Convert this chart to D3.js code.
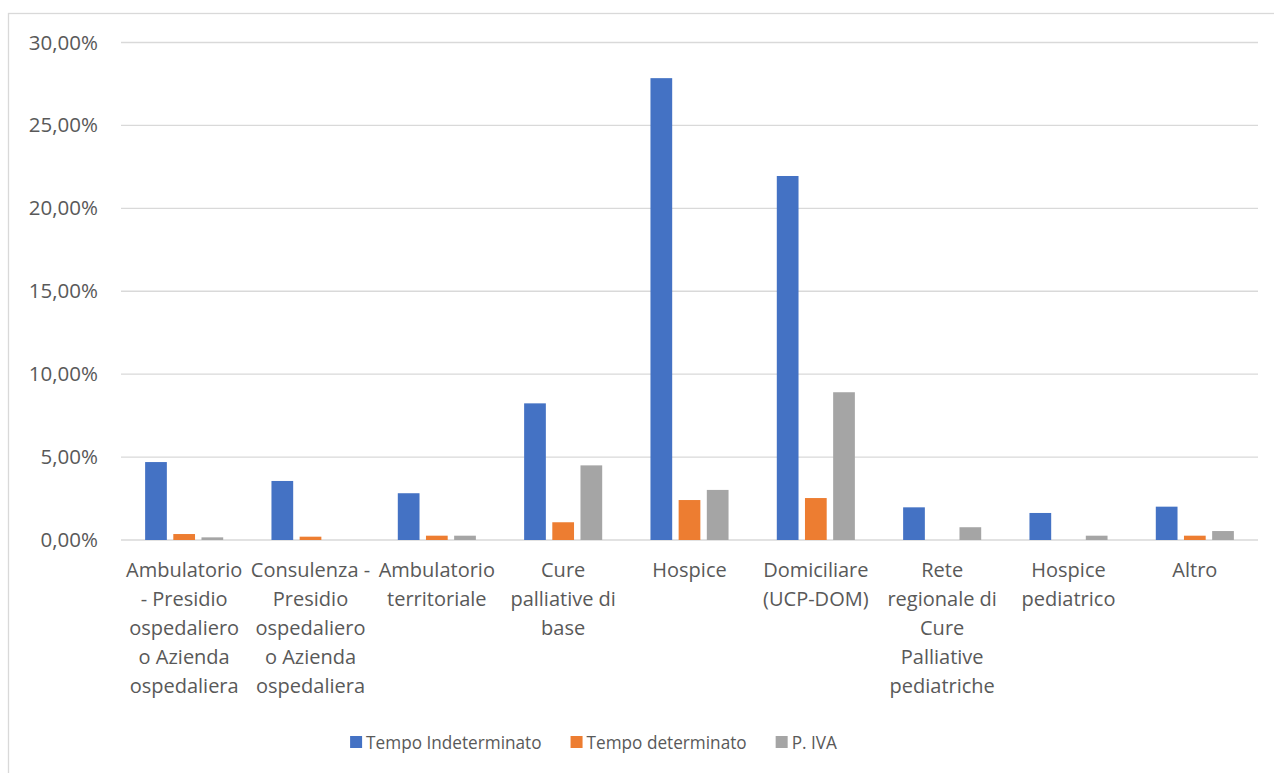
<!DOCTYPE html>
<html>
<head>
<meta charset="utf-8">
<script src="https://cdn.jsdelivr.net/npm/d3@7"></script>
<style>
  html, body { margin: 0; padding: 0; background: #ffffff; }
  svg { display: block; font-family: "Open Sans", "Noto Sans", sans-serif; }
</style>
</head>
<body>
<svg id="chart" width="1274" height="773"></svg>
<script>
// Categories (setting of care) and percentage of staff by contract type
const categories = [
  "Ambulatorio - Presidio ospedaliero o Azienda ospedaliera",
  "Consulenza - Presidio ospedaliero o Azienda ospedaliera",
  "Ambulatorio territoriale",
  "Cure palliative di base",
  "Hospice",
  "Domiciliare (UCP-DOM)",
  "Rete regionale di Cure Palliative pediatriche",
  "Hospice pediatrico",
  "Altro"
];
const seriesNames = ["Tempo Indeterminato", "Tempo determinato", "P. IVA"];
const tempoIndeterminato = [4.70, 3.56, 2.82, 8.24, 27.85, 21.95, 1.97, 1.63, 2.01];
const tempoDeterminato   = [0.36, 0.20, 0.26, 1.07, 2.41, 2.53, 0.00, 0.00, 0.26];
const partitaIva         = [0.16, 0.00, 0.26, 4.50, 3.02, 8.91, 0.77, 0.26, 0.54];
const yTicks = [0, 5, 10, 15, 20, 25, 30];
const seriesColors = ["#4472C4", "#ED7D31", "#A5A5A5"];

const seriesValues = [tempoIndeterminato, tempoDeterminato, partitaIva];
const rows = categories.map((c, i) => ({
  category: c,
  values: seriesNames.map((s, k) => ({ series: s, value: seriesValues[k][i] }))
}));

const svg = d3.select("#chart");
const textColor = "#595959";
const gridColor = "#D9D9D9";

// Chart-area frame
svg.append("rect")
  .attr("x", 8.5).attr("y", 13.5)
  .attr("width", 1300).attr("height", 800)
  .attr("fill", "#ffffff")
  .attr("stroke", gridColor).attr("stroke-width", 1.3);

const plot = { left: 121, right: 1258, top: 42.5, bottom: 540 };

const x = d3.scaleBand()
  .domain(categories)
  .range([plot.left, plot.right])
  .paddingInner(0.382)
  .paddingOuter(0.191);

const xs = d3.scaleBand()
  .domain(seriesNames)
  .range([0, x.bandwidth()])
  .paddingInner(0.229);

const y = d3.scaleLinear()
  .domain([0, 30])
  .range([plot.bottom, plot.top]);

const color = d3.scaleOrdinal().domain(seriesNames).range(seriesColors);

// Gridlines
svg.append("g")
  .selectAll("line")
  .data(yTicks)
  .join("line")
  .attr("x1", plot.left).attr("x2", plot.right)
  .attr("y1", d => y(d)).attr("y2", d => y(d))
  .attr("stroke", gridColor)
  .attr("stroke-width", 1.3);

// Y axis labels in Italian number format
const itLocale = d3.formatLocale({ decimal: ",", thousands: ".", grouping: [3], currency: ["", " €"] });
const pct = itLocale.format(".2%");
const yAxis = svg.append("g")
  .attr("transform", `translate(${plot.left},0)`)
  .call(d3.axisLeft(y).tickValues(yTicks).tickSize(0).tickPadding(23).tickFormat(d => pct(d / 100)));
yAxis.select(".domain").remove();
yAxis.selectAll("text")
  .attr("fill", textColor)
  .style("font-size", "20.5px")
  .style("font-family", "'Open Sans', sans-serif");

// Bars
const groups = svg.append("g")
  .selectAll("g")
  .data(rows)
  .join("g")
  .attr("transform", d => `translate(${x(d.category)},0)`);

groups.selectAll("rect")
  .data(d => d.values)
  .join("rect")
  .attr("x", d => xs(d.series))
  .attr("width", xs.bandwidth())
  .attr("y", d => y(d.value))
  .attr("height", d => y(0) - y(d.value))
  .attr("fill", d => color(d.series));

// Category labels, word-wrapped to the category width
const labelSize = 20;
const lineStep = 29;
const maxLabelWidth = 125;
const xLabels = svg.append("g")
  .selectAll("text")
  .data(categories)
  .join("text")
  .attr("x", d => x(d) + x.bandwidth() / 2)
  .attr("y", 577)
  .attr("text-anchor", "middle")
  .attr("fill", textColor)
  .style("font-size", labelSize + "px");

xLabels.each(function (d) {
  const text = d3.select(this);
  const cx = +text.attr("x");
  const words = d.split(/\s+/);
  let lineIdx = 0;
  let line = [];
  let tspan = text.append("tspan").attr("x", cx).attr("y", 577);
  words.forEach(w => {
    line.push(w);
    tspan.text(line.join(" "));
    if (tspan.node().getComputedTextLength() > maxLabelWidth && line.length > 1) {
      line.pop();
      tspan.text(line.join(" "));
      line = [w];
      lineIdx += 1;
      tspan = text.append("tspan").attr("x", cx).attr("y", 577 + lineIdx * lineStep).text(w);
    }
  });
});

// Legend (text slightly condensed)
const legendSize = 19;
const legendScaleX = 0.905;
const legend = svg.append("g");
const items = legend.selectAll("g")
  .data(seriesNames)
  .join("g");
items.append("rect")
  .attr("width", 12).attr("height", 12)
  .attr("y", 736)
  .attr("fill", d => color(d));
items.append("text")
  .attr("transform", `translate(16,742) scale(${legendScaleX},1)`)
  .attr("dy", "0.36em")
  .attr("fill", textColor)
  .style("font-size", legendSize + "px")
  .text(d => d);

const itemGap = 29;
const widths = [];
items.each(function () {
  widths.push(this.querySelector("text").getComputedTextLength() * legendScaleX + 16);
});
const totalW = d3.sum(widths) + itemGap * (widths.length - 1);
const legendCenter = 593.5;
let cursor = legendCenter - totalW / 2;
items.attr("transform", (d, i) => {
  const t = `translate(${cursor},0)`;
  cursor += widths[i] + itemGap;
  return t;
});
</script>
</body>
</html>
